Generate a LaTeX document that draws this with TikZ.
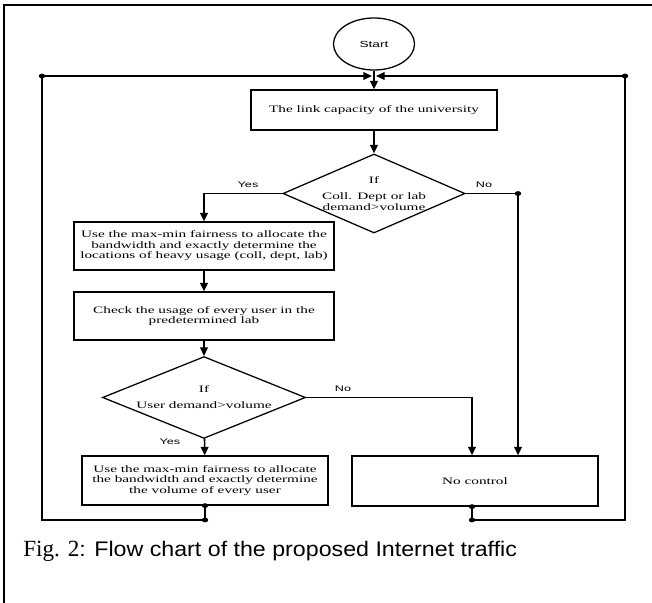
\documentclass[tikz,border=0pt]{standalone}
\usepackage{fontspec}
\setmainfont{Liberation Serif}
\newfontfamily\boxfont[FakeStretch=1.55]{Liberation Serif}
\newfontfamily\tagfont[FakeStretch=1.55]{Liberation Sans}
\newfontfamily\capsans[FakeStretch=1.1]{Liberation Sans}
\usetikzlibrary{
	shapes.geometric,
	positioning,
	arrows.meta
}

\tikzset{
	block/.style={draw, rectangle, line width=0.9pt, inner sep=0pt, align=center,
		font=\boxfont\fontsize{7}{7.4}\selectfont},
	test/.style={draw, diamond, aspect=2.3, line width=0.9pt, inner sep=0pt, align=center,
		font=\boxfont\fontsize{7}{7.4}\selectfont},
	tag/.style={font=\tagfont\fontsize{5.8}{6}\selectfont},
	flow/.style={line width=1.1pt, -{Triangle[length=6pt,width=5.5pt]}},
	link/.style={line width=0.9pt},
	back/.style={line width=1.1pt, -{Triangle[length=6pt,width=5.5pt]}, shorten >=1.5pt}
}

\begin{document}
\begin{tikzpicture}[x=0.025cm, y=-0.025cm]
		\useasboundingbox (0,0) rectangle (652,603);
		\draw[line width=1.4pt] (4,603) -- (4,5) -- (652,5);

		\node[draw, ellipse, line width=0.9pt, minimum width=2.025cm, minimum height=1.3cm,
			font=\tagfont\fontsize{6.3}{7}\selectfont] (start) at (374,44) {Start};
		\node[block, minimum width=6.15cm, minimum height=1cm]    (link) at (374,110)
			{The link capacity of the university};
		\node[test, minimum width=4.55cm, minimum height=1.975cm] (dec1) at (374,193.5)
			{If\\[4pt]Coll. Dept or lab\\demand>volume};
		\node[block, minimum width=6.5cm, minimum height=1.2cm]   (use1) at (204,246)
			{Use the max-min fairness to allocate the\\bandwidth and exactly determine the\\locations of heavy usage (coll, dept, lab)};
		\node[block, minimum width=6.5cm, minimum height=1.2cm]   (chk)  at (204,316)
			{Check the usage of every user in the\\predetermined lab};
		\node[test, minimum width=5.075cm, minimum height=1.8cm]  (dec2) at (204,397.5)
			{If\\[4pt]User demand>volume};
		\node[block, minimum width=6.15cm, minimum height=1.225cm] (use2) at (205,480.5)
			{Use the max-min fairness to allocate\\the bandwidth and exactly determine\\the volume of every user};
		\node[block, minimum width=6.15cm, minimum height=1.25cm] (noc)  at (475,481)
			{No control};

		% corners and junctions
		\coordinate (tl)  at (42,76);
		\coordinate (tr)  at (625,76);
		\coordinate (top) at (374,76);
		\coordinate (no1) at (518,193.5);
		\coordinate (no2) at (472,397.5);
		\coordinate (lb)  at (205,520);
		\coordinate (rb)  at (472,520);

		\draw[flow] (start) -- (link);
		\draw[flow] (link) -- (dec1);
		\draw[flow] (dec1.west) -| (use1);
		\draw[link] (dec1.east) -- (no1);
		\draw[flow] (no1) -- (no1 |- noc.north);
		\draw[flow] (use1) -- (chk);
		\draw[flow] (chk) -- (dec2);
		\draw[flow] (dec2) -- (use2);
		\draw[flow] (dec2.east) -- (no2) -- (no2 |- noc.north);

		\draw[back] (use2.south) -- (lb) -| (tl) -- (top);
		\draw[back] (rb |- noc.south) -- (rb) -| (tr) -- (top);

		\foreach \p in {tl, tr, no1, lb, rb, use2.south, rb |- noc.south}
			\fill (\p) ellipse [x radius=3.2, y radius=2.4];

		\node[tag] (yes1) at (248,185) {Yes};
		\node[tag] (nol1) at (484,185) {No};
		\node[tag] (yes2) at (170,442) {Yes};
		\node[tag] (nol2) at (343,389) {No};

		\node[anchor=base west, inner sep=0pt] (fig) at (23,556)
			{\fontsize{16.5}{17}\selectfont Fig. 2{\capsans\fontsize{15}{16}\selectfont : Flow chart of the proposed Internet traffic}};
	\end{tikzpicture}
\end{document}
